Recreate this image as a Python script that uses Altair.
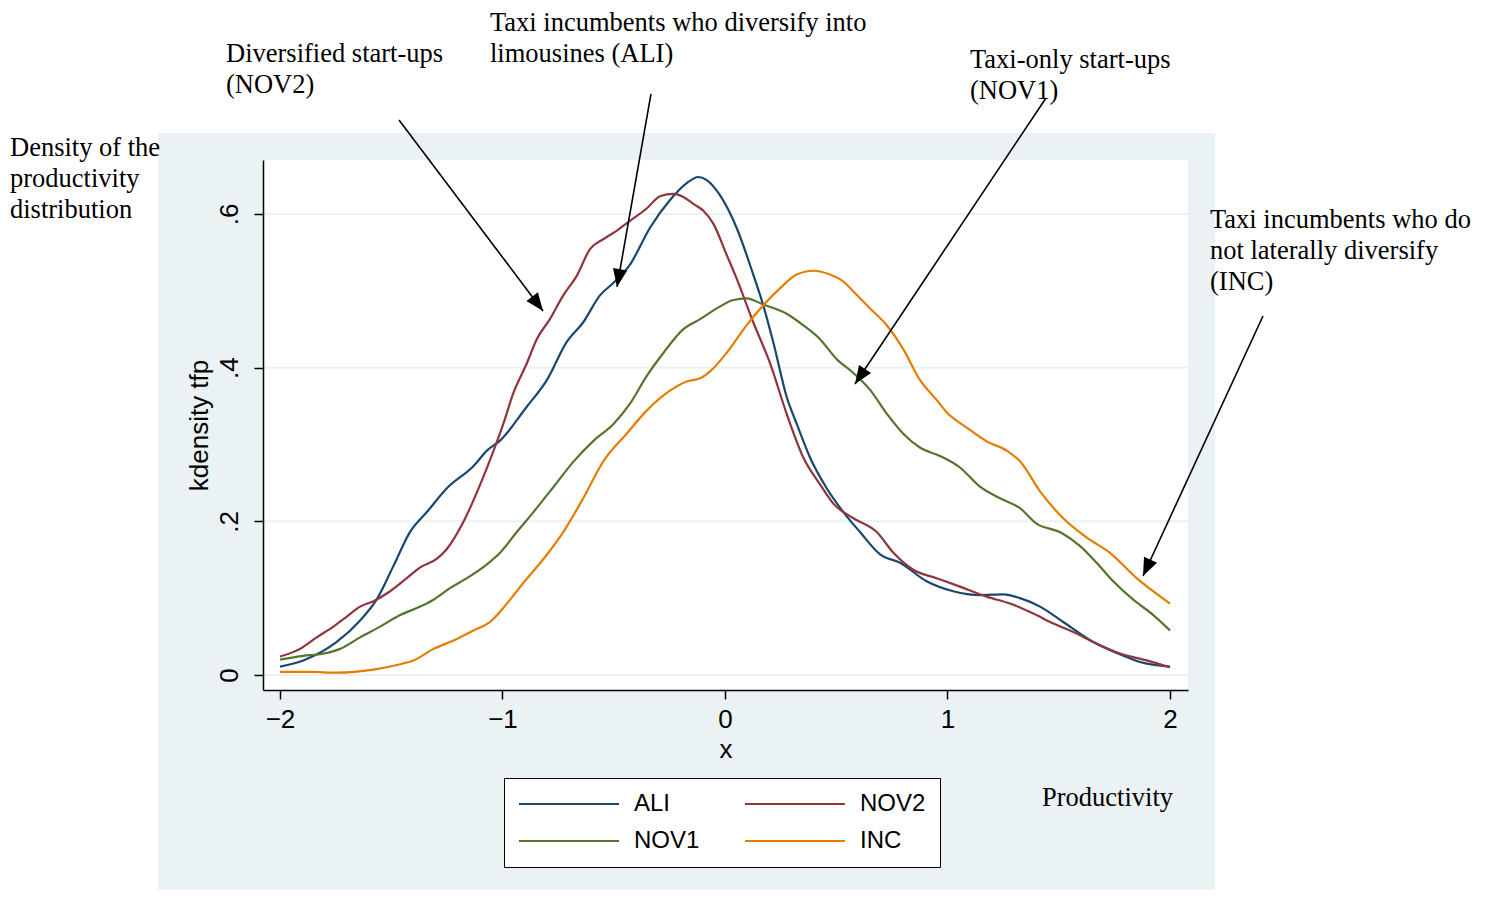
import altair as alt
import pandas as pd
import numpy as np

# ---------------- data ----------------
series = ["ALI", "NOV1", "NOV2", "INC"]          # legend fills column by column
colors = ["#1a476f", "#55752f", "#90353b", "#e37e00"]

ali_x = [-2.0, -1.895, -1.745, -1.64, -1.566, -1.49, -1.416, -1.34, -1.25, -1.13, -1.07, -1.011,
         -0.891, -0.80, -0.712, -0.637, -0.562, -0.502, -0.427, -0.337, -0.247, -0.172, -0.12,
         -0.082, -0.022, 0.052, 0.127, 0.172, 0.217, 0.277, 0.322, 0.382, 0.457, 0.532, 0.607,
         0.697, 0.787, 0.906, 1.026, 1.146, 1.251, 1.326, 1.416, 1.52, 1.655, 1.775, 1.865, 2.0]
ali_y = [0.011, 0.019, 0.043, 0.071, 0.098, 0.142, 0.186, 0.212, 0.243, 0.272, 0.292, 0.305,
         0.349, 0.384, 0.433, 0.459, 0.494, 0.510, 0.534, 0.582, 0.618, 0.640, 0.648,
         0.644, 0.624, 0.582, 0.521, 0.481, 0.433, 0.362, 0.327, 0.283, 0.243, 0.212, 0.186,
         0.157, 0.146, 0.122, 0.109, 0.104, 0.105, 0.100, 0.089, 0.069, 0.043, 0.027, 0.017, 0.011]

nov2_x = [-2.0, -1.91, -1.835, -1.76, -1.70, -1.64, -1.58, -1.505, -1.43, -1.37, -1.296, -1.25,
          -1.176, -1.10, -1.04, -0.996, -0.951, -0.89, -0.846, -0.787, -0.727, -0.667, -0.607,
          -0.547, -0.487, -0.427, -0.352, -0.292, -0.232, -0.187, -0.142, -0.097, -0.052, 0.007,
          0.052, 0.127, 0.202, 0.277, 0.352, 0.427, 0.487, 0.577, 0.682, 0.757, 0.846, 0.951,
          1.056, 1.176, 1.281, 1.386, 1.476, 1.566, 1.655, 1.775, 1.895, 2.0]
nov2_y = [0.024, 0.034, 0.049, 0.063, 0.076, 0.089, 0.096, 0.109, 0.126, 0.140, 0.151, 0.164,
          0.199, 0.248, 0.292, 0.327, 0.367, 0.406, 0.437, 0.463, 0.494, 0.519, 0.554,
          0.567, 0.578, 0.591, 0.607, 0.623, 0.626, 0.622, 0.613, 0.604, 0.587, 0.547,
          0.516, 0.459, 0.406, 0.340, 0.283, 0.248, 0.223, 0.204, 0.186, 0.159, 0.137, 0.126,
          0.115, 0.102, 0.093, 0.080, 0.067, 0.056, 0.043, 0.028, 0.019, 0.010]

nov1_x = [-2.0, -1.895, -1.82, -1.73, -1.64, -1.55, -1.46, -1.37, -1.31, -1.236, -1.16, -1.07,
          -1.011, -0.936, -0.861, -0.77, -0.68, -0.59, -0.50, -0.427, -0.352, -0.277, -0.187,
          -0.112, -0.037, 0.037, 0.097, 0.172, 0.277, 0.352, 0.427, 0.502, 0.577, 0.652, 0.727,
          0.801, 0.876, 0.966, 1.056, 1.146, 1.236, 1.326, 1.40, 1.505, 1.595, 1.67, 1.745,
          1.835, 1.925, 2.0]
nov1_y = [0.020, 0.025, 0.027, 0.034, 0.049, 0.063, 0.078, 0.089, 0.098, 0.113, 0.126, 0.144,
          0.159, 0.186, 0.212, 0.245, 0.278, 0.305, 0.327, 0.353, 0.389, 0.419, 0.450,
          0.463, 0.477, 0.488, 0.490, 0.482, 0.470, 0.455, 0.437, 0.411, 0.393, 0.371, 0.340,
          0.314, 0.296, 0.285, 0.270, 0.245, 0.230, 0.217, 0.197, 0.186, 0.168, 0.146, 0.122,
          0.098, 0.078, 0.058]

inc_x = [-2.0, -1.865, -1.745, -1.58, -1.46, -1.40, -1.31, -1.22, -1.13, -1.056, -0.98, -0.906,
         -0.816, -0.727, -0.637, -0.547, -0.442, -0.352, -0.262, -0.172, -0.112, -0.067, 0.007,
         0.097, 0.172, 0.247, 0.322, 0.397, 0.472, 0.532, 0.577, 0.652, 0.727, 0.801, 0.876,
         0.951, 0.996, 1.086, 1.176, 1.266, 1.326, 1.416, 1.52, 1.625, 1.73, 1.85, 2.0]
inc_y = [0.004, 0.004, 0.003, 0.007, 0.014, 0.019, 0.034, 0.045, 0.058, 0.069, 0.093, 0.120,
         0.151, 0.186, 0.230, 0.278, 0.314, 0.344, 0.367, 0.382, 0.386, 0.395, 0.419,
         0.455, 0.481, 0.503, 0.521, 0.526, 0.521, 0.512, 0.499, 0.477, 0.455, 0.424, 0.384,
         0.358, 0.342, 0.322, 0.304, 0.292, 0.278, 0.239, 0.204, 0.179, 0.159, 0.126, 0.093]

x_ticks = [-2, -1, 0, 1, 2]
y_ticks = [0, 0.2, 0.4, 0.6]

# annotations (anchors in data units)
ann_text = ["Diversified start-ups\n(NOV2)",
            "Taxi incumbents who diversify into\nlimousines (ALI)",
            "Taxi-only start-ups\n(NOV1)",
            "Taxi incumbents who do\nnot laterally diversify\n(INC)",
            "Density of the\nproductivity\ndistribution",
            "Productivity"]
ann_x = [-2.2427, -1.0562, 1.1011, 2.1798, -3.2135, 1.4247]
ann_y = [0.7977, 0.838, 0.7899, 0.5817, 0.6753, -0.1705]

arrow_x0 = [-1.4652, -0.3326, 1.4427, 2.418]
arrow_y0 = [0.7222, 0.756, 0.7508, 0.4671]
arrow_x1 = [-0.818, -0.4854, 0.5843, 1.8787]
arrow_y1 = [0.4737, 0.5049, 0.3787, 0.1288]

# ---------------- layout ----------------
XDOM = [-2.0764, 2.0809]
YDOM = [-0.0195, 0.6701]
PANEL = dict(x0=-2.5483, x1=2.2022, y0=-0.2902, y1=0.7053)
W, H = 925, 530
PX_X = W / (XDOM[1] - XDOM[0])
PX_Y = H / (YDOM[1] - YDOM[0])

BG = "#EAF2F3"
SANS = "Liberation Sans"
SERIF = "Liberation Serif"

rows = []
for name, xs, ys in [("ALI", ali_x, ali_y), ("NOV2", nov2_x, nov2_y),
                     ("NOV1", nov1_x, nov1_y), ("INC", inc_x, inc_y)]:
    for a, b in zip(xs, ys):
        rows.append({"series": name, "x": a, "y": b})
lines_df = pd.DataFrame(rows)

xscale = alt.Scale(domain=XDOM, nice=False, zero=False)
yscale = alt.Scale(domain=YDOM, nice=False, zero=False)

axis_common = dict(grid=False, tickSize=9, zindex=1, domainColor="black", domainWidth=1.5,
                   tickColor="black", tickWidth=1.5, labelFont=SANS, labelColor="black",
                   titleFont=SANS, titleColor="black", titleFontWeight="normal",
                   labelFontSize=26, titleFontSize=26)
xaxis = alt.Axis(values=x_ticks, format="d", title="x", labelPadding=7, titlePadding=4,
                 **axis_common)
yaxis = alt.Axis(values=y_ticks, title="kdensity tfp",
                 labelAngle=270, labelAlign="center", labelBaseline="alphabetic",
                 labelPadding=17, titlePadding=4,
                 labelExpr="datum.value == 0 ? '0' : replace(format(datum.value, '.1f'), '0.', '.')",
                 **axis_common)


def X(field):
    return alt.X(field, type="quantitative", scale=xscale, axis=xaxis)


def Y(field):
    return alt.Y(field, type="quantitative", scale=yscale, axis=yaxis)


panel_df = pd.DataFrame([PANEL])
panel = alt.Chart(panel_df).mark_rect(fill=BG, clip=False).encode(
    x=X("x0"), x2="x1", y=Y("y0"), y2="y1")

plot_df = pd.DataFrame([{"x0": XDOM[0], "x1": XDOM[1], "y0": YDOM[0], "y1": YDOM[1]}])
plotbg = alt.Chart(plot_df).mark_rect(fill="white").encode(
    x=X("x0"), x2="x1", y=Y("y0"), y2="y1")

grid = alt.Chart(pd.DataFrame({"g": y_ticks})).mark_rule(color=BG, strokeWidth=2).encode(
    y=Y("g"))

lines = alt.Chart(lines_df).mark_line(strokeWidth=2.2, interpolate="monotone").encode(
    x=X("x"), y=Y("y"),
    color=alt.Color("series:N", sort=series,
                    scale=alt.Scale(domain=series, range=colors),
                    legend=alt.Legend(title=None, orient="none", legendX=241, legendY=618,
                                      columns=2, symbolType="stroke", symbolSize=10000,
                                      symbolStrokeWidth=2, clipHeight=24,
                                      labelFont=SANS, labelFontSize=24, labelColor="black",
                                      labelOffset=14, columnPadding=44, rowPadding=13,
                                      padding=14, strokeColor="black", fillColor="white")))

arr_df = pd.DataFrame({"x0": arrow_x0, "y0": arrow_y0, "x1": arrow_x1, "y1": arrow_y1})
dxp = (arr_df["x1"] - arr_df["x0"]) * PX_X
dyp = -(arr_df["y1"] - arr_df["y0"]) * PX_Y
arr_df["ang"] = (np.degrees(np.arctan2(dxp, -dyp)) + 360) % 360

arrow_lines = alt.Chart(arr_df).mark_rule(color="black", strokeWidth=1.6, clip=False).encode(
    x=X("x0"), y=Y("y0"), x2="x1", y2="y1")
arrow_heads = alt.Chart(arr_df).mark_point(
    shape="M0,0L-0.4,1L0.4,1Z", filled=True, color="black", opacity=1, size=1296,
    strokeWidth=0, clip=False).encode(
    x=X("x1"), y=Y("y1"), angle=alt.Angle("ang:Q", scale=None))

ann_df = pd.DataFrame({"t": ann_text, "x": ann_x, "y": ann_y})
texts = alt.Chart(ann_df).mark_text(
    align="left", baseline="alphabetic", font=SERIF, fontSize=26.5, lineHeight=31,
    lineBreak="\n", color="black", clip=False).encode(
    x=X("x"), y=Y("y"), text="t:N")

chart = alt.layer(panel, plotbg, grid, lines, arrow_lines, arrow_heads, texts).properties(
    width=W, height=H,
    autosize=alt.AutoSizeParams(type="none"),
    padding={"left": 255, "top": 152, "right": 296, "bottom": 200},
    background="white",
).configure_view(stroke=None)

chart.save("out.html", embed_options={"renderer": "svg", "actions": False})
